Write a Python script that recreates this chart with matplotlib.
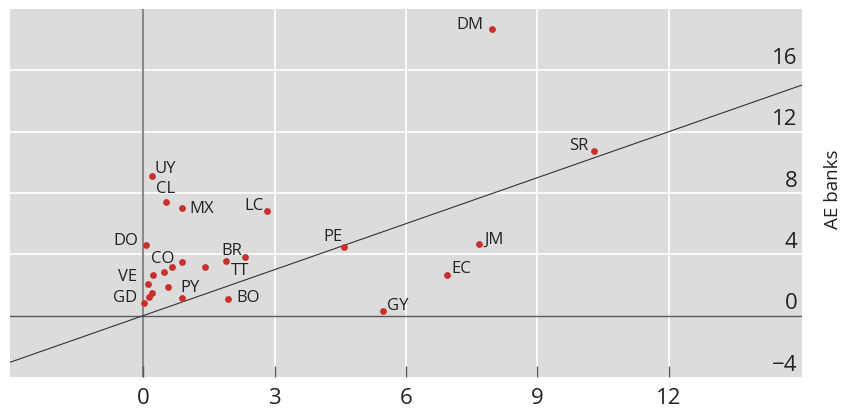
import matplotlib
matplotlib.use("Agg")
import matplotlib.pyplot as plt
import matplotlib.transforms as mtransforms

plt.rcParams["font.family"] = ["Open Sans", "DejaVu Sans"]

# EME banks (x) against AE banks (y), by country
countries = ["DM", "SR", "UY", "CL", "MX", "LC", "DO", "PE", "JM", "EC", "GY",
             "BR", "TT", "CO", "", "", "", "", "VE", "", "PY", "", "", "GD", "BO"]
eme_banks = [7.97, 10.30, 0.21, 0.53, 0.89, 2.83, 0.07, 4.59, 7.67, 6.94, 5.48,
             2.33, 1.89, 0.89, 0.66, 0.48, 0.23, 1.42, 0.11, 0.57, 0.89, 0.20, 0.14, 0.02, 1.94]
ae_banks = [18.67, 10.73, 9.11, 7.41, 7.02, 6.83, 4.62, 4.49, 4.68, 2.67, 0.33,
            3.84, 3.58, 3.51, 3.19, 2.86, 2.67, 3.19, 2.08, 1.89, 1.17, 1.50, 1.24, 0.85, 1.10]

x_ticks = [0, 3, 6, 9, 12]
y_ticks = [-4, 0, 4, 8, 12, 16]

# label centre offsets from the dot, in points
label_pos = {
    "DM": (-16, 3), "SR": (-11.5, 3.6), "UY": (9, 5), "CL": (-0.7, 9.4),
    "MX": (14, -0.7), "LC": (-9.8, 3.6), "DO": (-15, 2.9), "PE": (-8, 7.2),
    "JM": (10.5, 2.9), "EC": (9.8, 4.3), "GY": (10.5, 3.6), "BR": (-9.4, 4.3),
    "TT": (10, -7.2), "CO": (-13.7, 2.2), "VE": (-15, 5), "PY": (6, 7.2),
    "GD": (-13.5, 3.6), "BO": (14.6, 0.7),
}

fig = plt.figure(figsize=(8.43, 4.09), dpi=100)
ax = fig.add_axes([10 / 843, 32 / 409, 792 / 843, 368 / 409])
ax.set_facecolor("#dcdcdc")
ax.set_xlim(-3.04, 15.04)
ax.set_ylim(-4, 20)

for v in x_ticks[1:]:
    ax.axvline(v, color="white", lw=1.2, zorder=0)
for v in y_ticks[2:]:
    ax.axhline(v, color="white", lw=1.2, zorder=0)
ax.axvline(0, color="#8a8a8a", lw=1.5, zorder=1)
ax.axhline(0, color="#5a5a5a", lw=1.0, zorder=1)

# 45-degree line
ax.axline((0, 0), slope=1, color="#333333", lw=0.8, zorder=2)

ax.scatter(eme_banks, ae_banks, s=24, color="#c8302c", zorder=3, linewidths=0)

for name, x, y in zip(countries, eme_banks, ae_banks):
    if not name:
        continue
    dx, dy = label_pos[name]
    ax.annotate(name, (x, y), xytext=(dx, dy), textcoords="offset points",
                ha="center", va="center", fontsize=12,
                color="#222222", zorder=4)

for s in ax.spines.values():
    s.set_visible(False)
ax.set_xticks(x_ticks)
ax.set_xticklabels([str(v) for v in x_ticks], fontsize=16, color="#222222")
ax.tick_params(axis="x", direction="in", length=8, width=1, color="#555555", pad=8)
ax.set_yticks([])

trans = mtransforms.offset_copy(ax.get_yaxis_transform(), fig=fig, x=0, y=4.5, units="points")
for v in y_ticks:
    lbl = str(v) if v >= 0 else "\u2212" + str(-v)
    ax.text(0.994, v, lbl, transform=trans, ha="right", va="baseline",
            fontsize=16, color="#222222")

fig.text(0.988, 0.538, "AE banks", rotation=90, ha="center", va="center",
         fontsize=13.5, color="#222222")

fig.savefig("out.png", dpi=100)
